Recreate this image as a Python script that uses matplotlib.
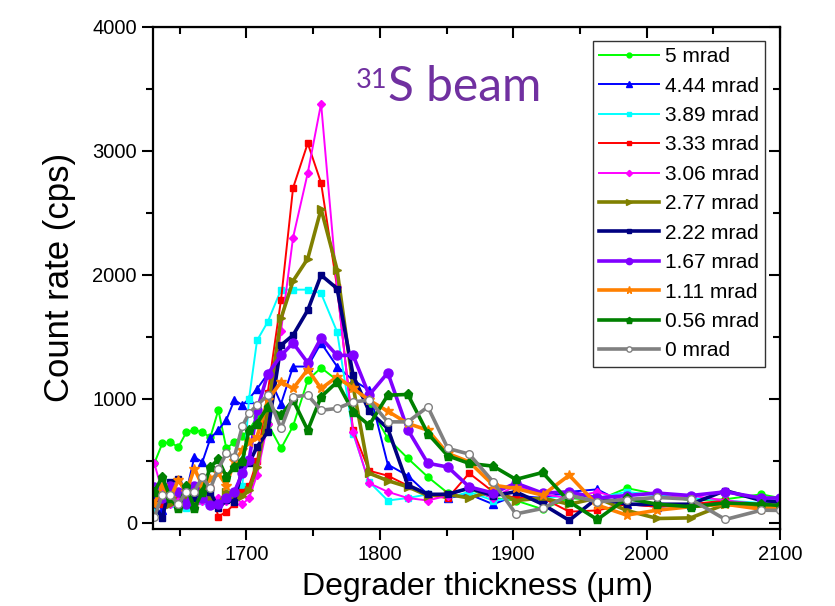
import matplotlib.pyplot as plt
from matplotlib.ticker import MultipleLocator

# degrader thickness (um), shared by all scans
thickness = [1631, 1637, 1643, 1649, 1655, 1661, 1667, 1673, 1679, 1685, 1691, 1697,
             1702, 1708, 1716, 1726, 1735, 1746, 1756, 1768, 1780, 1792, 1806, 1821,
             1836, 1851, 1867, 1885, 1902, 1922, 1942, 1963, 1985, 2008, 2033, 2059,
             2086, 2100]

rate_5 = [480, 640, 650, 610, 730, 750, 730, 690, 910, 600, 650, 700,
          750, 850, 800, 600, 780, 1150, 1250, 1150, 1100, 950, 680, 520,
          370, 240, 270, 200, 180, 110, 200, 180, 280, 230, 180, 190, 230, 200]
rate_444 = [200, 100, 280, 200, 250, 530, 490, 680, 750, 830, 990, 950,
            1000, 1080, 1200, 960, 1260, 1260, 1450, 1260, 1150, 1070, 470, 380,
            230, 200, 230, 150, 220, 200, 250, 270, 150, 130, 140, 170, 150, 150]
rate_389 = [100, 220, 150, 200, 120, 250, 180, 200, 150, 250, 200, 300,
            1000, 1470, 1620, 1880, 1880, 1880, 1850, 1540, 720, 330, 180, 200,
            230, 200, 250, 180, 200, 190, 230, 200, 250, 220, 200, 180, 160, 180]
rate_333 = [250, 150, 300, 200, 250, 150, 200, 280, 50, 90, 150, 250,
            300, 500, 1050, 1800, 2700, 3060, 2740, 1900, 745, 420, 380, 300,
            220, 200, 400, 250, 200, 200, 90, 100, 150, 130, 150, 180, 130, 150]
rate_306 = [480, 250, 150, 180, 200, 120, 180, 150, 200, 180, 220, 150,
            200, 385, 800, 1550, 2300, 2820, 3380, 1900, 730, 320, 250, 200,
            180, 220, 280, 200, 300, 230, 200, 250, 180, 200, 220, 180, 150, 170]
rate_277 = [300, 200, 150, 250, 200, 150, 300, 200, 150, 250, 200, 220,
            262, 450, 900, 1650, 1950, 2130, 2530, 2040, 1100, 400, 340, 290,
            220, 230, 200, 260, 180, 200, 150, 200, 100, 35, 40, 150, 130, 130]
rate_222 = [150, 35, 330, 350, 250, 200, 300, 250, 116, 183, 170, 438,
            480, 613, 733, 1432, 1513, 1714, 1997, 1889, 1190, 900, 761, 304,
            230, 230, 280, 220, 250, 150, 20, 200, 150, 150, 150, 260, 180, 170]
rate_167 = [290, 200, 300, 250, 150, 300, 200, 143, 150, 200, 250, 400,
            505, 908, 1200, 1350, 1450, 1290, 1490, 1350, 1350, 1030, 1210, 750,
            480, 450, 290, 240, 320, 240, 250, 200, 220, 240, 220, 250, 200, 200]
rate_111 = [150, 300, 200, 344, 250, 438, 300, 350, 400, 300, 500, 586,
            650, 693, 990, 1136, 1083, 1236, 1083, 1177, 1083, 989, 900, 801,
            747, 559, 492, 304, 277, 223, 384, 143, 62, 102, 130, 150, 110, 130]
rate_056 = [250, 371, 200, 116, 300, 116, 250, 451, 511, 371, 450, 500,
            750, 800, 935, 868, 990, 747, 1016, 1136, 895, 787, 1029, 1035,
            720, 540, 479, 457, 350, 406, 169, 27, 197, 150, 130, 160, 150, 140]
rate_0 = [48, 223, 223, 150, 250, 250, 371, 277, 438, 559, 532, 780,
          882, 949, 1029, 761, 1016, 1029, 908, 922, 975, 989, 814, 814,
          935, 600, 554, 330, 72, 116, 223, 169, 188, 205, 191, 27, 102, 100]

labels = ["5 mrad", "4.44 mrad", "3.89 mrad", "3.33 mrad", "3.06 mrad", "2.77 mrad",
          "2.22 mrad", "1.67 mrad", "1.11 mrad", "0.56 mrad", "0 mrad"]
rates = [rate_5, rate_444, rate_389, rate_333, rate_306, rate_277,
         rate_222, rate_167, rate_111, rate_056, rate_0]

colors = ["#00FF00", "#0000FF", "#00FFFF", "#FF0000", "#FF00FF", "#808000",
          "#000080", "#8000FF", "#FF8000", "#008000", "#808080"]
markers = ["o", "^", "s", "s", "D", ">", "s", "o", "*", "p", "o"]
msizes = [5, 6, 5, 5, 4.5, 6, 5, 6.5, 7.5, 6.5, 5.5]
widths = [1.4, 1.4, 1.4, 1.4, 1.4, 2.6, 2.6, 2.6, 2.6, 2.6, 2.6]

plt.rcParams['font.family'] = ['Liberation Sans', 'DejaVu Sans']

fig = plt.figure(figsize=(8.35, 6.06), dpi=100)
ax = fig.add_axes([0.1832, 0.127, 0.751, 0.829])

for y, lab, c, m, ms, lw in zip(rates, labels, colors, markers, msizes, widths):
    mfc = "white" if lab == "0 mrad" else c
    ax.plot(thickness, y, color=c, marker=m, markersize=ms, linewidth=lw,
            markerfacecolor=mfc, markeredgecolor=c, markeredgewidth=1.0, label=lab)

ax.set_xlim(1630, 2100)
ax.set_ylim(-50, 4000)
ax.xaxis.set_major_locator(MultipleLocator(100))
ax.xaxis.set_minor_locator(MultipleLocator(50))
ax.yaxis.set_major_locator(MultipleLocator(1000))
ax.yaxis.set_minor_locator(MultipleLocator(500))
ax.tick_params(which='major', direction='out', length=8, width=1.5, labelsize=14.5)
ax.tick_params(which='minor', direction='out', length=5, width=1.5)
for s in ax.spines.values():
    s.set_linewidth(1.6)

# mirrored ticks on top and right, pointing inward
top = ax.secondary_xaxis('top')
top.xaxis.set_major_locator(MultipleLocator(100))
top.xaxis.set_minor_locator(MultipleLocator(50))
top.tick_params(which='major', direction='in', length=8, width=1.5, labeltop=False)
top.tick_params(which='minor', direction='in', length=5, width=1.5)
right = ax.secondary_yaxis('right')
right.yaxis.set_major_locator(MultipleLocator(1000))
right.yaxis.set_minor_locator(MultipleLocator(500))
right.tick_params(which='major', direction='in', length=8, width=1.5, labelright=False)
right.tick_params(which='minor', direction='in', length=5, width=1.5)

ax.set_xlabel("Degrader thickness (\u03bcm)", fontsize=23, labelpad=4)
ax.xaxis.set_label_coords(0.517, -0.085)
ax.set_ylabel("Count rate (cps)", fontsize=25, labelpad=12)

ax.text(0.375, 0.853, "S beam", transform=ax.transAxes, fontsize=34.5,
        color="#7030A0", family="Lato", ha="left", va="baseline")
ax.text(0.373, 0.878, "31", transform=ax.transAxes, fontsize=19.5,
        color="#7030A0", family="Lato", ha="right", va="baseline")

leg = ax.legend(loc="upper left", bbox_to_anchor=(0.702, 0.9715), borderaxespad=0,
                fontsize=15, frameon=True, fancybox=False, edgecolor="black",
                handlelength=2.85, handletextpad=0.3, labelspacing=0.5,
                markerscale=0.7, borderpad=0.3)
leg.get_frame().set_linewidth(1.0)

fig.savefig("out.png", dpi=100)
